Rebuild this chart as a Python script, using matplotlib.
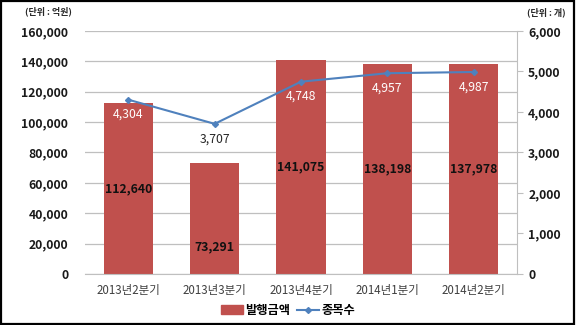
import matplotlib.pyplot as plt
from matplotlib.patches import Rectangle
from matplotlib.lines import Line2D

plt.rcParams['font.family'] = ['Noto Sans CJK KR', 'DejaVu Sans']

# 분기별 발행금액(억원) / 종목수(개)
quarters = ["2013년2분기", "2013년3분기", "2013년4분기", "2014년1분기", "2014년2분기"]
amounts = [112640, 73291, 141075, 138198, 137978]
counts = [4304, 3707, 4748, 4957, 4987]
# 막대 라벨 세로 위치(막대 높이 대비 비율)
amount_label_pos = [0.5, 0.24, 0.5, 0.5, 0.5]
count_label_colors = ["white", "#262626", "white", "white", "white"]

BAR_COLOR = "#C0504D"
LINE_COLOR = "#4F81BD"
GRID_COLOR = "#BFBFBF"

fig = plt.figure(figsize=(5.76, 3.25), dpi=100)
ax = fig.add_axes([0.1476, 0.157, 0.75, 0.7477])
ax2 = ax.twinx()

x = range(len(quarters))
ax.bar(x, amounts, width=0.57, color=BAR_COLOR, zorder=2)
ax.set_ylim(0, 160000)
ax.set_xlim(-0.5, len(quarters) - 0.5)
ax.set_yticks(range(0, 160001, 20000))
ax.set_yticklabels([f"{v:,}" for v in range(0, 160001, 20000)],
                   fontsize=8.8, fontweight="bold", color="#1a1a1a")
ax.tick_params(axis="y", length=0, pad=12)
ax.set_xticks(list(x))
ax.set_xticklabels(quarters, fontsize=8.3, color="#404040")
ax.tick_params(axis="x", length=0, pad=7)
ax.grid(axis="y", color=GRID_COLOR, lw=0.9, zorder=0)
ax.set_axisbelow(True)
for s in ["top", "left", "right"]:
    ax.spines[s].set_visible(False)
ax.spines["bottom"].set_color(GRID_COLOR)

for i, (v, p) in enumerate(zip(amounts, amount_label_pos)):
    ax.text(i, v * p, f"{v:,}", ha="center", va="center",
            fontsize=8.8, fontweight="bold", color="#111111", zorder=3)

ax2.plot(list(x), counts, color=LINE_COLOR, lw=1.5, marker="D", ms=3, zorder=4)
ax2.set_ylim(0, 6000)
ax2.set_yticks(range(0, 6001, 1000))
ax2.set_yticklabels([f"{v:,}" for v in range(0, 6001, 1000)],
                    fontsize=8.8, fontweight="bold", color="#1a1a1a")
ax2.tick_params(axis="y", length=4, color=GRID_COLOR, pad=4)
for s in ["top", "left", "bottom"]:
    ax2.spines[s].set_visible(False)
ax2.spines["right"].set_color(GRID_COLOR)

for i, (c, col) in enumerate(zip(counts, count_label_colors)):
    ax2.annotate(f"{c:,}", (i, c), xytext=(0, -6), textcoords="offset points",
                 ha="center", va="top", fontsize=8.8, color=col, zorder=5)

fig.text(0.043, 0.955, "(단위 : 억원)", fontsize=6.5, fontweight="bold", color="#262626")
fig.text(0.915, 0.952, "(단위 : 개)", fontsize=6.5, fontweight="bold", color="#262626")

handles = [Rectangle((0, 0), 1, 1, color=BAR_COLOR),
           Line2D([], [], color=LINE_COLOR, lw=1.5, marker="D", ms=3)]
fig.legend(handles, ["발행금액", "종목수"], loc="center", bbox_to_anchor=(0.5, 0.045),
           ncol=2, frameon=False, handlelength=1.8, handletextpad=0.2, columnspacing=0.6,
           prop={"size": 8.8, "weight": "bold"})

fig.add_artist(Rectangle((0.002, 0.003), 0.995, 0.993, transform=fig.transFigure,
                         fill=False, edgecolor="black", lw=1.6))

fig.savefig("out.png", dpi=100)
